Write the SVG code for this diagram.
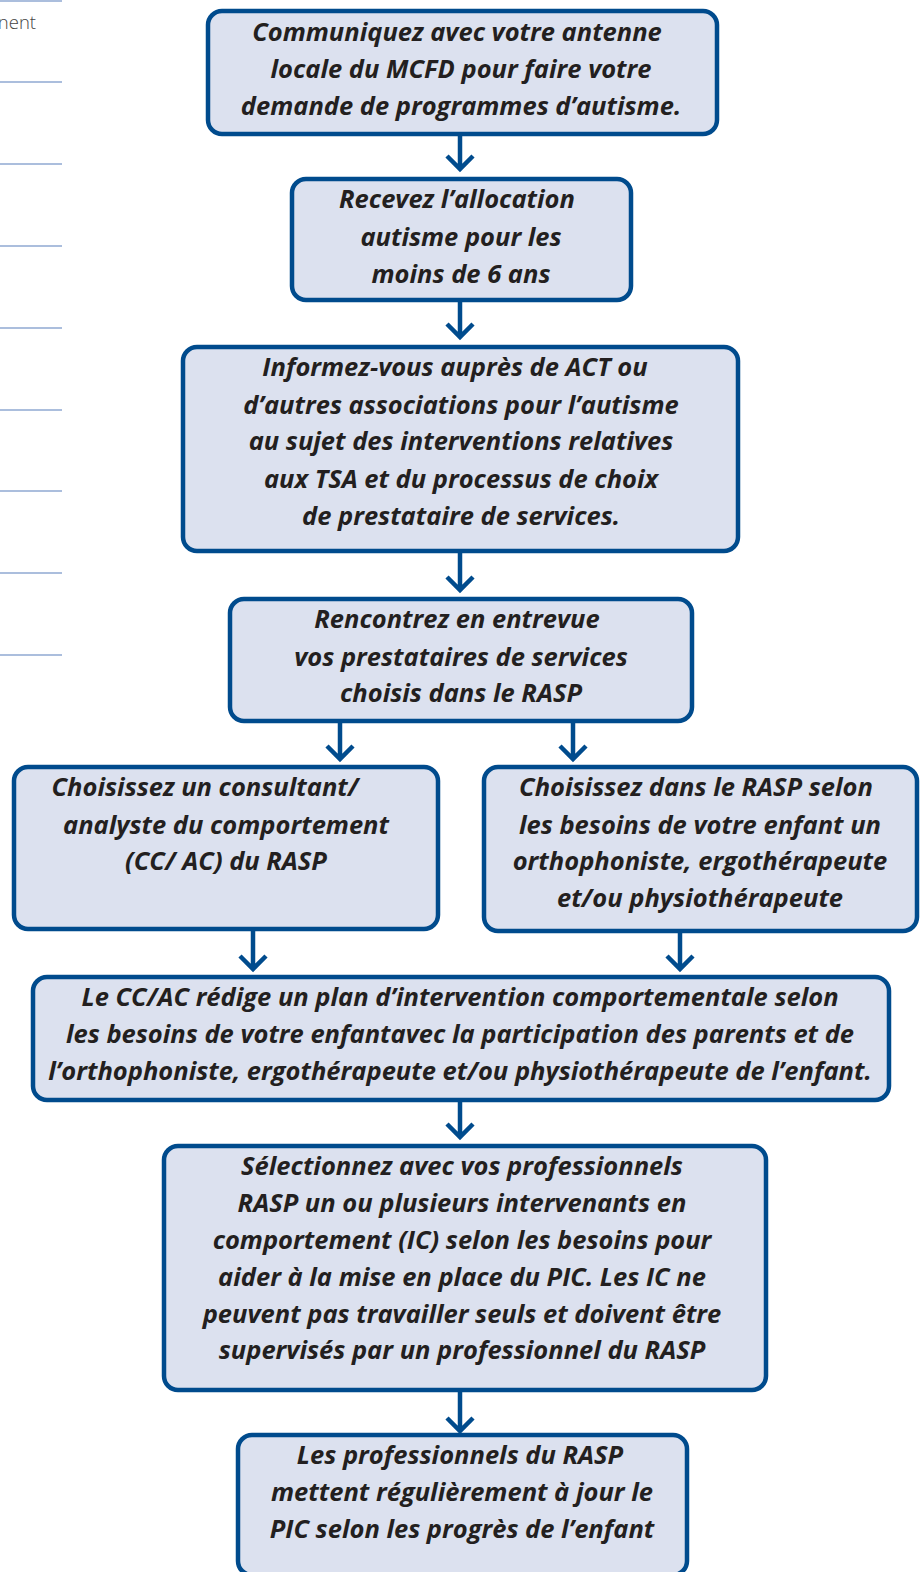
<svg xmlns="http://www.w3.org/2000/svg" width="924" height="1572" viewBox="0 0 924 1572">
<style>
.box{fill:#dce1ef;stroke:#004b8d;stroke-width:4.5}
.t{font-family:"Open Sans",Lato,sans-serif;font-weight:bold;font-style:italic;font-size:25.5px;fill:#231f20;text-anchor:middle;font-variant-ligatures:none}
.c{stroke:#004b8d;stroke-width:4.5;fill:none}
.rule{stroke:#8fa8d2;stroke-width:1.5}
</style>
<g id="margin">
<line class="rule" x1="0" y1="1" x2="62" y2="1"/>
<line class="rule" x1="0" y1="82" x2="62" y2="82"/>
<line class="rule" x1="0" y1="164" x2="62" y2="164"/>
<line class="rule" x1="0" y1="246" x2="62" y2="246"/>
<line class="rule" x1="0" y1="328" x2="62" y2="328"/>
<line class="rule" x1="0" y1="410" x2="62" y2="410"/>
<line class="rule" x1="0" y1="491" x2="62" y2="491"/>
<line class="rule" x1="0" y1="573" x2="62" y2="573"/>
<line class="rule" x1="0" y1="655" x2="62" y2="655"/>
<text x="36" y="29" font-family="'Open Sans',sans-serif" font-size="18.5" fill="#444" text-anchor="end" font-weight="300">nent</text>
</g>
<g id="connectors">
<path class="c" d="M460 134V170M447 156L460 169L473 156"/>
<path class="c" d="M460 300V338M447 324L460 337L473 324"/>
<path class="c" d="M460 551V591M447 577L460 590L473 577"/>
<path class="c" d="M340 721V760M327 746L340 759L353 746"/>
<path class="c" d="M573 721V760M560 746L573 759L586 746"/>
<path class="c" d="M253 929V970M240 956L253 969L266 956"/>
<path class="c" d="M680 931V970M667 956L680 969L693 956"/>
<path class="c" d="M460 1100V1138M447 1124L460 1137L473 1124"/>
<path class="c" d="M460 1390V1432M447 1418L460 1431L473 1418"/>
</g>
<g id="n1">
<rect class="box" x="208" y="11" width="509" height="123" rx="14"/>
<text class="t" x="457" y="41">Communiquez avec votre antenne</text>
<text class="t" x="461" y="78">locale du MCFD pour faire votre</text>
<text class="t" x="461" y="115">demande de programmes d’autisme.</text>
</g>
<g id="n2">
<rect class="box" x="292" y="179" width="339" height="121" rx="14"/>
<text class="t" x="457" y="208">Recevez l’allocation</text>
<text class="t" x="461" y="246">autisme pour les</text>
<text class="t" x="461" y="283">moins de 6 ans</text>
</g>
<g id="n3">
<rect class="box" x="183" y="347" width="555" height="204" rx="14"/>
<text class="t" x="455" y="376">Informez-vous auprès de ACT ou</text>
<text class="t" x="461" y="414">d’autres associations pour l’autisme</text>
<text class="t" x="461" y="450">au sujet des interventions relatives</text>
<text class="t" x="461" y="488">aux TSA et du processus de choix</text>
<text class="t" x="461" y="525">de prestataire de services.</text>
</g>
<g id="n4">
<rect class="box" x="230" y="599" width="462" height="122" rx="14"/>
<text class="t" x="457" y="628">Rencontrez en entrevue</text>
<text class="t" x="461" y="666">vos prestataires de services</text>
<text class="t" x="461" y="702">choisis dans le RASP</text>
</g>
<g id="n5">
<rect class="box" x="14" y="767" width="424" height="162" rx="14"/>
<text class="t" x="205" y="796">Choisissez un consultant/</text>
<text class="t" x="226" y="834">analyste du comportement</text>
<text class="t" x="226" y="870">(CC/ AC) du RASP</text>
</g>
<g id="n6">
<rect class="box" x="484" y="767" width="433" height="164" rx="14"/>
<text class="t" x="696" y="796">Choisissez dans le RASP selon</text>
<text class="t" x="700" y="834">les besoins de votre enfant un</text>
<text class="t" x="700" y="870">orthophoniste, ergothérapeute</text>
<text class="t" x="700" y="907">et/ou physiothérapeute</text>
</g>
<g id="n7">
<rect class="box" x="33" y="977" width="856" height="123" rx="14"/>
<text class="t" x="460" y="1006">Le CC/AC rédige un plan d’intervention comportementale selon</text>
<text class="t" x="460" y="1043">les besoins de votre enfantavec la participation des parents et de</text>
<text class="t" x="460" y="1080">l’orthophoniste, ergothérapeute et/ou physiothérapeute de l’enfant.</text>
</g>
<g id="n8">
<rect class="box" x="164" y="1146" width="602" height="244" rx="14"/>
<text class="t" x="462" y="1175">Sélectionnez avec vos professionnels</text>
<text class="t" x="462" y="1212">RASP un ou plusieurs intervenants en</text>
<text class="t" x="462" y="1249">comportement (IC) selon les besoins pour</text>
<text class="t" x="462" y="1286">aider à la mise en place du PIC. Les IC ne</text>
<text class="t" x="462" y="1323">peuvent pas travailler seuls et doivent être</text>
<text class="t" x="462" y="1359">supervisés par un professionnel du RASP</text>
</g>
<g id="n9">
<rect class="box" x="238" y="1435" width="449" height="140" rx="14"/>
<text class="t" x="460" y="1464">Les professionnels du RASP</text>
<text class="t" x="462" y="1501">mettent régulièrement à jour le</text>
<text class="t" x="462" y="1538">PIC selon les progrès de l’enfant</text>
</g>
</svg>
